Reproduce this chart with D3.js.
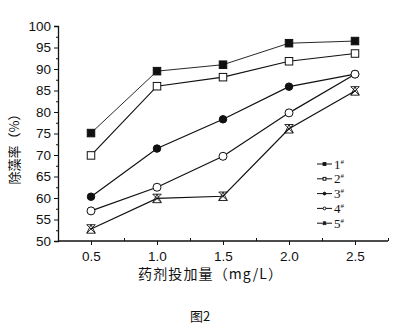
<!DOCTYPE html>
<html>
<head>
<meta charset="utf-8">
<script src="https://cdn.jsdelivr.net/npm/d3@7"></script>
<style>
  html, body { margin: 0; padding: 0; background: #fff; }
  svg { display: block; }
</style>
</head>
<body>
<svg id="chart" width="398" height="328"></svg>
<script>
// Dosage levels (mg/L) and algae removal rate (%) for five samples
const doses = [0.5, 1.0, 1.5, 2.0, 2.5];
const series1 = [75.1, 89.5, 91.0, 96.0, 96.5];
const series2 = [69.9, 86.0, 88.1, 91.8, 93.6];
const series3 = [60.3, 71.5, 78.3, 85.9, 88.8];
const series4 = [57.0, 62.5, 69.7, 79.8, 88.8];
const series5 = [52.8, 59.9, 60.4, 76.1, 84.9];
const seriesNames = ["1", "2", "3", "4", "5"];
const xTicks = [0.5, 1.0, 1.5, 2.0, 2.5];
const xMinorTicks = [0.75, 1.25, 1.75, 2.25, 2.75];
const yTicks = [50, 55, 60, 65, 70, 75, 80, 85, 90, 95, 100];
const yMinorTicks = [52.5, 57.5, 62.5, 67.5, 72.5, 77.5, 82.5, 87.5, 92.5, 97.5];

const svg = d3.select("#chart");
const x = d3.scaleLinear().domain([0.25, 2.75]).range([58, 388]);
const y = d3.scaleLinear().domain([50, 100]).range([241, 26]);

const ink = "#111";
const numFont = "'Liberation Sans', Arial, sans-serif";

// Axes
const gx = svg.append("g").attr("transform", `translate(0,${y(50)})`);
gx.call(d3.axisBottom(x).tickValues(xTicks).tickSize(4).tickPadding(6).tickFormat(d3.format(".1f")));
gx.append("g").call(d3.axisBottom(x).tickValues(xMinorTicks).tickSize(-3).tickFormat(""));
const gy = svg.append("g").attr("transform", `translate(${x(0.25)},0)`);
gy.call(d3.axisLeft(y).tickValues(yTicks).tickSize(4).tickPadding(3));
gy.append("g").call(d3.axisLeft(y).tickValues(yMinorTicks).tickSize(2).tickFormat(""));
svg.selectAll(".domain").attr("stroke", ink).attr("stroke-width", 1.3);
svg.selectAll(".tick line").attr("stroke", ink).attr("stroke-width", 1);
svg.selectAll(".tick text").attr("fill", ink).style("font-family", numFont).style("font-size", "13.5px");
gx.select(".domain").attr("d", `M${x(0.25)},0H${x(2.75)}`);
gx.selectAll("g .domain").filter(function(){ return this.parentNode !== gx.node(); }).remove();
gy.selectAll("g .domain").filter(function(){ return this.parentNode !== gy.node(); }).remove();

// Marker shapes
function drawMarker(g, kind, cx, cy, s) {
  const h = s / 2;
  if (kind === "fsq" || kind === "osq") {
    g.append("rect").attr("x", cx - h).attr("y", cy - h).attr("width", s).attr("height", s)
      .attr("fill", kind === "fsq" ? ink : "#fff").attr("stroke", ink).attr("stroke-width", 1);
  } else if (kind === "fci" || kind === "oci") {
    g.append("circle").attr("cx", cx).attr("cy", cy).attr("r", h)
      .attr("fill", kind === "fci" ? ink : "#fff").attr("stroke", ink).attr("stroke-width", 1);
  } else {
    // crossed hourglass marker
    const p = `M${cx - h},${cy - h}L${cx + h},${cy + h}M${cx + h},${cy - h}L${cx - h},${cy + h}` +
      `M${cx - h},${cy - h}H${cx + h}M${cx - h},${cy + h}H${cx + h}` +
      `M${cx},${cy - h}L${cx - h},${cy + h}M${cx},${cy - h}L${cx + h},${cy + h}`;
    g.append("path").attr("d", p).attr("fill", "none").attr("stroke", ink).attr("stroke-width", 0.9);
  }
}

const allSeries = [
  { vals: series1, kind: "fsq", size: 7.5, lw: 0.9 },
  { vals: series2, kind: "osq", size: 7.5, lw: 1.2 },
  { vals: series3, kind: "fci", size: 7.5, lw: 1.2 },
  { vals: series4, kind: "oci", size: 8, lw: 1.2 },
  { vals: series5, kind: "x", size: 8.5, lw: 1.2 }
];

const line = d3.line().x((d, i) => x(doses[i])).y(d => y(d));
allSeries.forEach(s => {
  svg.append("path").datum(s.vals).attr("d", line)
    .attr("fill", "none").attr("stroke", ink).attr("stroke-width", s.lw);
});
allSeries.forEach(s => {
  const g = svg.append("g");
  s.vals.forEach((v, i) => drawMarker(g, s.kind, x(doses[i]), y(v), s.size));
});

// Legend
const lg = svg.append("g");
allSeries.forEach((s, i) => {
  const ly = 164 + i * 14.8;
  lg.append("line").attr("x1", 317).attr("x2", 332).attr("y1", ly).attr("y2", ly)
    .attr("stroke", ink).attr("stroke-width", 1);
  drawMarker(lg, s.kind, 324.5, ly, 2.8);
  const t = lg.append("text").attr("x", 334).attr("y", ly + 4.5).attr("fill", ink)
    .style("font-family", "'Liberation Serif', 'Times New Roman', serif").style("font-size", "13px");
  t.append("tspan").text(seriesNames[i]);
  t.append("tspan").attr("dy", -5).style("font-size", "7px").text("#");
});

// Axis titles and caption
svg.append("text").attr("x", 138).attr("y", 279).attr("textLength", 144).attr("lengthAdjust", "spacing")
  .attr("fill", ink).style("font-family", "'Noto Sans CJK SC', sans-serif").style("font-size", "14px")
  .text("药剂投加量（mg/L）");
svg.append("text").attr("transform", "translate(19,146) rotate(-90)").attr("text-anchor", "middle")
  .attr("fill", ink).style("font-family", "'Noto Sans CJK SC', sans-serif").style("font-size", "13px")
  .text("除藻率（%）");
svg.append("text").attr("x", 190).attr("y", 321).attr("fill", ink)
  .style("font-family", "'Noto Sans CJK SC', sans-serif").style("font-size", "13px")
  .text("图2");
</script>
</body>
</html>
